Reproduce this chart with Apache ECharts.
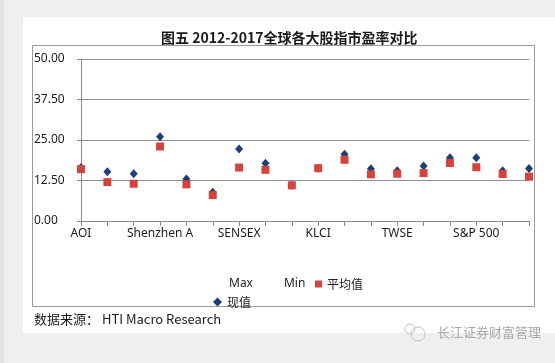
<!DOCTYPE html>
<html><head><meta charset="utf-8">
<script src="https://cdn.jsdelivr.net/npm/echarts@6/dist/echarts.min.js"></script>
<style>html,body{margin:0;padding:0;background:#efeff1;}#c{width:555px;height:363px;}</style>
</head><body><div id="c"></div>
<script>
const categories = ["AOI","Nikkei 225","Hang Seng","Shenzhen A","Shanghai A","HSCEI","SENSEX","JCI","SET","KLCI","STI","PSEi","TWSE","KOSPI","FTSE 100","S&P 500","DAX","CAC 40"];
const currentValues = [16.5,15.2,14.6,26.0,13.0,8.9,22.2,17.8,11.0,16.3,20.6,16.1,15.5,17.0,19.5,19.5,15.5,16.2];
const averageValues = [16.0,12.0,11.5,23.0,11.3,8.0,16.5,15.8,11.0,16.3,18.9,14.4,14.6,14.8,17.9,16.6,14.5,13.7];
const yTicks = {min:0, max:50, interval:12.5};
const titleText = "图五 2012-2017全球各大股指市盈率对比";
const sourceText = "数据来源： HTI Macro Research";
const watermark = "长江证券财富管理";

const font = "'Noto Sans','Noto Sans CJK SC',sans-serif";
const chart = echarts.init(document.getElementById('c'), null, {renderer:'canvas'});
chart.setOption({
  backgroundColor:'#efeff1',
  animation:false,
  textStyle:{fontFamily:font},
  graphic:[
    {type:'rect', z:-10, shape:{x:0,y:0,width:4,height:363}, style:{fill:'#e3e3e5'}},
    {type:'rect', z:-9, shape:{x:23,y:17,width:532,height:316}, style:{fill:'#ffffff'}},
    {type:'rect', z:-8, shape:{x:32.5,y:45.5,width:502,height:261}, style:{fill:'#ffffff',stroke:'#9a9a9a',lineWidth:1}},
    {type:'text', left:34, top:313, style:{text:sourceText, font:"13px 'Noto Sans CJK SC','Noto Sans',sans-serif", fill:'#1a1a1a'}},
    {type:'circle', shape:{cx:418,cy:334,r:7}, style:{fill:'none',stroke:'#c4c4c6',lineWidth:1}},
    {type:'circle', shape:{cx:410,cy:329,r:5}, style:{fill:'none',stroke:'#c4c4c6',lineWidth:1}},
    {type:'text', left:437, top:326, style:{text:watermark, font:"13px 'Noto Sans CJK SC',sans-serif", fill:'#a9a9ab'}}
  ],
  title:{text:titleText, left:156, top:26, textStyle:{fontSize:14, fontWeight:'bold', color:'#1a1a1a', fontFamily:"'Noto Sans CJK SC','Noto Sans',sans-serif"}},
  legend:[
    {left:219, top:273, itemWidth:0, itemHeight:8, itemGap:26, selectedMode:false,
     data:[{name:'Max',icon:'none'},{name:'Min',icon:'none'}], textStyle:{fontSize:12,color:'#222'}},
    {left:310, top:273, itemWidth:7, itemHeight:7, selectedMode:false,
     data:[{name:'平均值',icon:'rect'}], textStyle:{fontSize:12,color:'#222',fontFamily:"'Noto Sans CJK SC',sans-serif"}},
    {left:208, top:291, itemWidth:9, itemHeight:9, selectedMode:false,
     data:[{name:'现值',icon:'diamond'}], textStyle:{fontSize:12,color:'#222',fontFamily:"'Noto Sans CJK SC',sans-serif"}}
  ],
  grid:{left:81, right:26, top:59, bottom:142},
  xAxis:{type:'category', data:categories, boundaryGap:false,
    axisLine:{lineStyle:{color:'#8a8a8a'}},
    axisTick:{show:true, interval:0, length:5, lineStyle:{color:'#8a8a8a'}},
    axisLabel:{interval:2, margin:7, fontSize:12, color:'#1a1a1a'}},
  yAxis:{type:'value', min:yTicks.min, max:yTicks.max, interval:yTicks.interval,
    axisLine:{show:true, lineStyle:{color:'#8a8a8a'}},
    axisTick:{show:true, length:4, lineStyle:{color:'#8a8a8a'}},
    splitLine:{lineStyle:{color:'#8f8f8f', width:1}},
    axisLabel:{align:'left', margin:47, fontSize:12, color:'#1a1a1a', formatter:v=>v.toFixed(2)}},
  series:[
    {name:'Max', type:'scatter', data:[]},
    {name:'Min', type:'scatter', data:[]},
    {name:'现值', type:'scatter', data:currentValues, symbol:'diamond', symbolSize:[8,9], itemStyle:{color:'#1d3f78', opacity:1}, z:2},
    {name:'平均值', type:'scatter', data:averageValues, symbol:'rect', symbolSize:8, itemStyle:{color:'#d4443d', opacity:1}, z:3}
  ]
});
</script></body></html>
